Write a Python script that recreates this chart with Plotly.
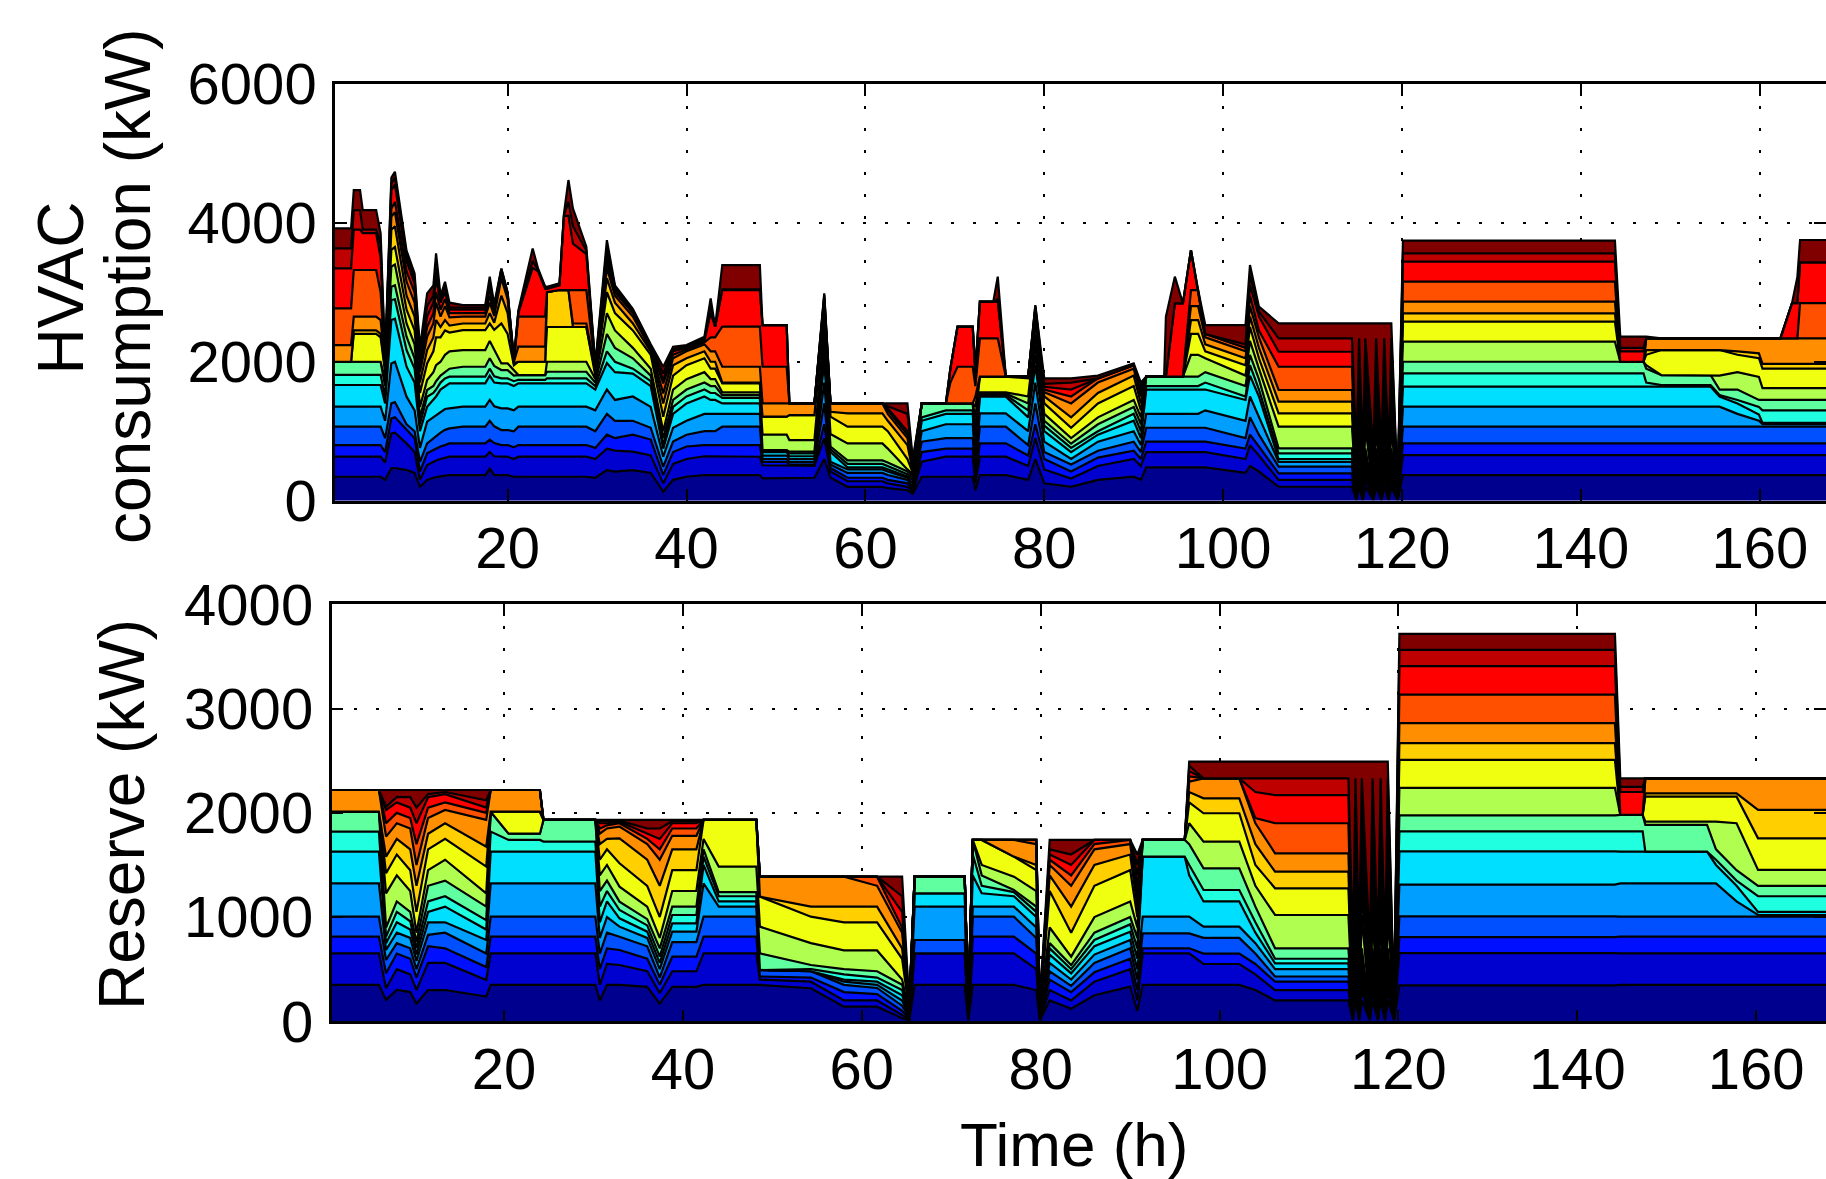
import numpy as np
import plotly.graph_objects as go

# ---------------- data ----------------
layer_colors = [
    "rgb(0,0,143)", "rgb(0,0,207)", "rgb(0,16,255)", "rgb(0,80,255)",
    "rgb(0,159,255)", "rgb(0,223,255)", "rgb(32,255,223)", "rgb(96,255,159)",
    "rgb(176,255,80)", "rgb(240,255,16)", "rgb(255,207,0)", "rgb(255,143,0)",
    "rgb(255,80,0)", "rgb(255,0,0)", "rgb(191,0,0)", "rgb(128,0,0)"]

x_ticks = [20, 40, 60, 80, 100, 120, 140, 160]
cons_ticks = [0, 2000, 4000, 6000]
res_ticks = [0, 1000, 2000, 3000, 4000]

# cumulative top of each of the 16 stacked layers (kW)
C_BIG = [369, 657, 825, 1065, 1353, 1641, 1832, 2000, 2288, 2576, 2696, 2864, 3152, 3440, 3559, 3742]
R_BIG = [345, 655, 808, 1007, 1311, 1630, 1822, 1975, 2240, 2509, 2669, 2860, 3135, 3407, 3564, 3717]
C_LATE = [201, 300, 393, 490, 560, 600, 680, 753, 1065, 1257, 1425, 1593, 1928, 2144, 2336, 2552]
R_LATE = [200, 300, 380, 430, 500, 556, 600, 700, 1020, 1276, 1436, 1612, 1900, 2171, 2331, 2491]
DIP = [10, 20, 30, 40, 50, 60, 70, 80, 90, 100, 110, 120, 130, 140, 150, 160]
C_DIP = [10, 20, 30, 40, 50, 60, 70, 80, 100, 130, 160, 200, 260, 400, 700, 2552]
R_DIP = [10, 20, 30, 40, 50, 60, 70, 80, 100, 130, 160, 200, 260, 400, 700, 2491]

cons_data = [
    (0.5, [345, 633, 801, 1065, 1353, 1665, 1810, 2000, 2000, 2000, 2000, 2240, 2768, 3343, 3631, 3919]),
    (2.5, [345, 633, 801, 1065, 1353, 1665, 1810, 2000, 2000, 2000, 2000, 2240, 2768, 3343, 3631, 3919]),
    (2.8, [345, 633, 801, 1065, 1353, 1665, 1810, 2000, 2000, 2400, 2450, 2650, 3320, 3900, 4180, 4470]),
    (3.5, [345, 633, 801, 1065, 1353, 1665, 1810, 2000, 2000, 2400, 2450, 2650, 3320, 3900, 4180, 4470]),
    (3.8, [345, 633, 801, 1065, 1353, 1665, 1810, 2000, 2000, 2400, 2450, 2650, 3320, 3850, 3900, 4183]),
    (5.3, [345, 633, 801, 1065, 1353, 1665, 1810, 2000, 2000, 2400, 2450, 2650, 3320, 3850, 3900, 4183]),
    (5.8, [345, 633, 801, 1065, 1353, 1665, 1810, 2000, 2000, 2350, 2400, 2600, 3000, 3500, 3700, 3850]),
    (6.3, [300, 550, 700, 900, 1150, 1400, 1500, 1650, 1750, 1850, 1900, 1950, 1980, 2000, 2020, 2050]),
    (7.0, [465, 969, 1185, 1400, 1976, 2600, 2888, 3080, 3370, 3610, 3900, 4090, 4200, 4470, 4560, 4650]),
    (7.4, [470, 980, 1200, 1420, 2000, 2620, 2900, 3100, 3400, 3650, 3950, 4150, 4300, 4550, 4650, 4735]),
    (8.7, [441, 825, 1017, 1100, 1497, 1928, 2168, 2360, 2550, 2750, 2950, 3150, 3300, 3450, 3530, 3600]),
    (9.6, [400, 700, 900, 1000, 1300, 1700, 1900, 2050, 2250, 2450, 2650, 2850, 3000, 3120, 3200, 3270]),
    (10.2, [200, 300, 420, 560, 760, 1000, 1100, 1200, 1350, 1550, 1700, 1850, 1950, 2050, 2120, 2200]),
    (11.0, [297, 513, 681, 825, 1137, 1353, 1497, 1593, 1737, 1976, 2168, 2360, 2500, 2650, 2800, 2984]),
    (11.7, [330, 560, 730, 900, 1200, 1450, 1550, 1650, 1850, 2150, 2350, 2550, 2700, 2850, 2950, 3100]),
    (12.0, [340, 580, 750, 930, 1230, 1500, 1600, 1720, 1950, 2350, 2600, 2850, 3000, 3200, 3350, 3559]),
    (12.5, [350, 600, 780, 980, 1280, 1600, 1700, 1800, 2000, 2350, 2500, 2650, 2750, 2850, 2900, 2950]),
    (13.0, [360, 620, 800, 1020, 1320, 1650, 1760, 1850, 2100, 2450, 2600, 2800, 2900, 3000, 3080, 3150]),
    (13.5, [369, 633, 825, 1041, 1329, 1689, 1785, 1900, 2150, 2420, 2520, 2640, 2700, 2750, 2780, 2850]),
    (15.0, [369, 633, 825, 1065, 1353, 1689, 1785, 1928, 2168, 2456, 2550, 2650, 2700, 2750, 2780, 2816]),
    (17.5, [369, 633, 825, 1065, 1353, 1689, 1785, 1928, 2168, 2456, 2550, 2650, 2700, 2750, 2780, 2816]),
    (18.0, [460, 700, 880, 1150, 1450, 1800, 1900, 2050, 2300, 2550, 2700, 2850, 2950, 3050, 3150, 3224]),
    (18.5, [370, 640, 830, 1070, 1360, 1700, 1790, 1940, 2170, 2460, 2560, 2660, 2710, 2760, 2790, 2830]),
    (19.3, [369, 633, 801, 1017, 1329, 1689, 1760, 1880, 1976, 2552, 2950, 3200, 3290, 3320, 3335, 3343]),
    (20.0, [369, 633, 801, 1017, 1329, 1689, 1760, 1880, 1976, 2400, 2700, 2900, 2950, 2980, 2990, 3000]),
    (20.7, [345, 600, 770, 1000, 1300, 1650, 1720, 1800, 1880, 1950, 1980, 2000, 2010, 2020, 2030, 2040]),
    (21.2, [345, 633, 801, 1065, 1353, 1689, 1740, 1808, 1808, 2000, 2000, 2216, 2650, 2700, 2720, 2740]),
    (22.8, [345, 633, 801, 1065, 1353, 1689, 1740, 1808, 1808, 2000, 2000, 2216, 2650, 3350, 3450, 3631]),
    (23.4, [345, 633, 801, 1065, 1353, 1689, 1740, 1808, 1808, 2000, 2000, 2216, 2650, 3300, 3320, 3343]),
    (24.2, [345, 633, 801, 1065, 1353, 1689, 1740, 1808, 1808, 2000, 2000, 2216, 2650, 3050, 3070, 3080]),
    (24.4, [345, 633, 801, 1065, 1353, 1689, 1760, 1856, 2000, 2500, 3000, 3000, 3000, 3050, 3070, 3080]),
    (25.8, [345, 633, 801, 1065, 1353, 1689, 1760, 1856, 2000, 2500, 3032, 3032, 3032, 3100, 3110, 3130]),
    (26.3, [345, 633, 801, 1065, 1353, 1689, 1760, 1856, 2000, 2500, 3032, 3032, 3032, 4100, 4110, 4130]),
    (26.8, [345, 633, 801, 1065, 1353, 1689, 1760, 1856, 2000, 2500, 3032, 3032, 3032, 4100, 4300, 4615]),
    (27.3, [345, 633, 801, 1065, 1353, 1689, 1760, 1856, 2000, 2500, 2500, 2550, 3032, 3700, 3950, 4207]),
    (28.8, [345, 633, 801, 1065, 1353, 1689, 1760, 1856, 2000, 2500, 2500, 2550, 3032, 3550, 3600, 3655]),
    (29.8, [330, 600, 760, 1000, 1300, 1600, 1650, 1700, 1750, 1800, 1850, 1880, 1900, 1920, 1940, 1960]),
    (31.1, [440, 750, 950, 1250, 1600, 1980, 2150, 2400, 2700, 3000, 3200, 3350, 3450, 3550, 3650, 3751]),
    (32.0, [420, 720, 900, 1150, 1450, 1850, 2000, 2200, 2450, 2700, 2850, 2950, 3000, 3050, 3080, 3100]),
    (34.0, [441, 705, 950, 1150, 1500, 1830, 1900, 2050, 2200, 2450, 2550, 2650, 2700, 2720, 2740, 2760]),
    (36.0, [400, 650, 880, 1050, 1350, 1650, 1720, 1800, 1900, 2100, 2150, 2180, 2200, 2210, 2220, 2250]),
    (37.4, [130, 250, 369, 489, 633, 750, 800, 900, 1000, 1209, 1400, 1545, 1690, 1740, 1830, 1928]),
    (38.5, [300, 530, 700, 850, 1050, 1250, 1350, 1450, 1600, 1800, 1950, 2050, 2100, 2150, 2180, 2216]),
    (40.0, [345, 600, 780, 950, 1150, 1400, 1500, 1600, 1750, 1950, 2050, 2150, 2180, 2200, 2220, 2240]),
    (42.0, [369, 640, 800, 1000, 1250, 1500, 1600, 1700, 1850, 2050, 2150, 2250, 2280, 2300, 2330, 2360]),
    (42.7, [369, 640, 800, 1000, 1250, 1450, 1550, 1650, 1750, 1900, 2000, 2150, 2350, 2700, 2800, 2912]),
    (43.2, [369, 640, 800, 1000, 1250, 1450, 1550, 1650, 1750, 1900, 2000, 2150, 2350, 2504, 2504, 2504]),
    (44.0, [369, 633, 801, 1065, 1250, 1400, 1480, 1520, 1560, 1689, 1700, 1928, 2504, 3032, 3040, 3391]),
    (48.2, [369, 633, 801, 1065, 1250, 1400, 1480, 1520, 1560, 1689, 1700, 1928, 2504, 3032, 3040, 3391]),
    (48.5, [320, 510, 560, 600, 650, 700, 720, 730, 950, 1209, 1209, 1401, 1928, 2528, 2528, 2528]),
    (51.2, [320, 510, 560, 600, 650, 700, 720, 730, 950, 1209, 1209, 1401, 1928, 2528, 2528, 2528]),
    (51.5, [330, 500, 520, 560, 600, 640, 680, 705, 873, 1233, 1233, 1401, 1401, 1401, 1401, 1401]),
    (54.3, [330, 500, 520, 560, 600, 640, 680, 705, 873, 1233, 1233, 1401, 1401, 1401, 1401, 1401]),
    (55.4, [600, 900, 1100, 1400, 1700, 2000, 2200, 2350, 2500, 2700, 2800, 2850, 2900, 2930, 2960, 2984]),
    (56.1, [330, 420, 470, 520, 560, 700, 740, 780, 960, 1209, 1280, 1401, 1401, 1401, 1401, 1401]),
    (58.0, [200, 280, 330, 400, 450, 480, 530, 580, 825, 1065, 1257, 1401, 1401, 1401, 1401, 1401]),
    (61.9, [200, 280, 330, 400, 450, 480, 530, 580, 825, 1065, 1257, 1401, 1401, 1401, 1401, 1401]),
    (62.5, [180, 250, 300, 370, 420, 450, 500, 550, 750, 1000, 1150, 1250, 1300, 1330, 1360, 1401]),
    (64.7, [150, 200, 250, 300, 330, 350, 380, 420, 450, 600, 800, 900, 950, 1000, 1250, 1401]),
    (65.3, [100, 130, 160, 200, 250, 300, 330, 360, 380, 400, 420, 450, 480, 520, 560, 600]),
    (66.3, [345, 560, 700, 850, 1000, 1150, 1200, 1401, 1401, 1401, 1401, 1401, 1401, 1401, 1401, 1401]),
    (69.0, [345, 633, 750, 900, 1100, 1250, 1300, 1401, 1401, 1401, 1401, 1401, 1401, 1401, 1401, 1401]),
    (69.5, [345, 633, 750, 900, 1100, 1250, 1300, 1401, 1401, 1401, 1401, 1401, 1700, 1900, 1900, 1900]),
    (70.3, [345, 633, 750, 900, 1100, 1250, 1300, 1401, 1401, 1401, 1401, 1401, 1928, 2504, 2504, 2504]),
    (72.0, [345, 633, 750, 900, 1100, 1250, 1300, 1401, 1401, 1401, 1401, 1401, 1928, 2504, 2504, 2504]),
    (72.3, [150, 250, 350, 450, 550, 650, 750, 900, 1050, 1200, 1350, 1500, 1650, 1800, 1850, 1900]),
    (72.8, [369, 633, 825, 1065, 1257, 1497, 1520, 1540, 1560, 1785, 1785, 1785, 2336, 2864, 2864, 2864]),
    (74.3, [369, 633, 825, 1065, 1257, 1497, 1520, 1540, 1560, 1785, 1785, 1785, 2336, 2864, 2864, 2864]),
    (74.8, [369, 633, 825, 1065, 1257, 1497, 1520, 1540, 1560, 1785, 1785, 1785, 2336, 2864, 2900, 3224]),
    (75.7, [369, 633, 825, 1065, 1257, 1497, 1520, 1540, 1560, 1785, 1785, 1785, 1785, 1785, 1785, 1785]),
    (78.2, [300, 500, 650, 800, 1000, 1200, 1300, 1400, 1500, 1760, 1785, 1785, 1785, 1785, 1785, 1785]),
    (79.0, [600, 900, 1100, 1400, 1700, 1950, 2100, 2250, 2400, 2550, 2650, 2700, 2750, 2780, 2800, 2816]),
    (80.0, [250, 450, 600, 700, 850, 1000, 1080, 1150, 1250, 1400, 1500, 1560, 1600, 1640, 1680, 1760]),
    (83.0, [200, 320, 420, 520, 600, 700, 760, 820, 900, 1050, 1200, 1400, 1500, 1600, 1700, 1760]),
    (86.0, [300, 500, 620, 720, 850, 950, 1000, 1100, 1200, 1400, 1550, 1700, 1760, 1760, 1760, 1800]),
    (90.0, [345, 600, 720, 850, 1000, 1150, 1250, 1350, 1450, 1650, 1800, 1900, 1950, 1950, 1950, 1976]),
    (90.8, [300, 500, 600, 700, 800, 900, 1000, 1100, 1200, 1300, 1400, 1500, 1550, 1600, 1650, 1700]),
    (91.4, [480, 700, 850, 1050, 1250, 1600, 1650, 1785, 1785, 1785, 1785, 1785, 1785, 1785, 1785, 1785]),
    (93.4, [480, 700, 850, 1050, 1250, 1600, 1650, 1785, 1785, 1785, 1785, 1785, 1785, 1785, 1785, 1785]),
    (93.6, [480, 700, 850, 1050, 1250, 1600, 1650, 1785, 1785, 1785, 1785, 1785, 1785, 1785, 1785, 2648]),
    (94.6, [480, 700, 850, 1050, 1250, 1600, 1650, 1785, 1785, 1785, 1785, 1785, 1785, 2840, 2840, 3224]),
    (95.5, [480, 700, 850, 1050, 1250, 1600, 1650, 1785, 1785, 1785, 1785, 1785, 1785, 2840, 2840, 2840]),
    (96.4, [480, 700, 850, 1050, 1250, 1600, 1650, 1785, 2100, 2400, 2600, 2800, 3032, 3607, 3607, 3607]),
    (97.2, [480, 700, 850, 1050, 1250, 1600, 1650, 1785, 2100, 2400, 2600, 2800, 3032, 3032, 3032, 3032]),
    (98.0, [480, 700, 850, 1050, 1300, 1600, 1700, 1850, 2050, 2150, 2250, 2350, 2400, 2400, 2400, 2528]),
    (102.5, [400, 600, 750, 900, 1150, 1450, 1500, 1650, 1800, 1950, 2050, 2150, 2200, 2200, 2250, 2528]),
    (103.0, [500, 800, 950, 1200, 1500, 1800, 1950, 2100, 2300, 2500, 2650, 2800, 2950, 3100, 3250, 3391]),
    (104.0, [420, 650, 780, 950, 1200, 1500, 1600, 1750, 1900, 2050, 2200, 2350, 2450, 2650, 2720, 2792]),
    (106.2, C_LATE), (114.0, C_LATE),
    (114.4, C_LATE), (114.9, C_DIP), (115.2, C_LATE), (115.6, C_DIP), (115.9, C_LATE),
    (116.8, C_DIP), (117.1, C_LATE), (117.7, C_DIP), (118.0, C_LATE), (118.5, C_DIP),
    (118.8, C_LATE), (119.5, DIP),
    (120.1, C_BIG), (143.8, C_BIG),
    (144.4, [369, 657, 825, 1065, 1353, 1641, 1832, 2000, 2000, 2000, 2000, 2000, 2000, 2150, 2200, 2360]),
    (147.0, [369, 657, 825, 1065, 1353, 1641, 1832, 2000, 2000, 2000, 2000, 2000, 2000, 2150, 2200, 2360]),
    (147.3, [369, 657, 825, 1065, 1353, 1641, 1700, 1900, 1952, 2100, 2168, 2336, 2336, 2336, 2336, 2360]),
    (149.0, [369, 657, 825, 1065, 1353, 1641, 1664, 1808, 1808, 2168, 2168, 2336, 2336, 2336, 2336, 2336]),
    (154.5, [369, 657, 825, 1065, 1353, 1641, 1664, 1808, 1808, 2168, 2168, 2336, 2336, 2336, 2336, 2336]),
    (155.5, [369, 657, 825, 1065, 1353, 1500, 1520, 1600, 1800, 2168, 2168, 2336, 2336, 2336, 2336, 2336]),
    (157.5, [369, 657, 825, 1065, 1250, 1400, 1450, 1600, 1850, 2100, 2150, 2336, 2336, 2336, 2336, 2336]),
    (159.9, [369, 657, 825, 1065, 1150, 1240, 1350, 1450, 1780, 2050, 2120, 2336, 2336, 2336, 2336, 2336]),
    (160.3, [369, 657, 825, 1065, 1100, 1120, 1300, 1450, 1620, 1900, 1970, 2336, 2336, 2336, 2336, 2336]),
    (162.3, [369, 657, 825, 1065, 1100, 1120, 1300, 1450, 1620, 1900, 1970, 2336, 2336, 2336, 2336, 2336]),
    (163.6, [369, 657, 825, 1065, 1100, 1120, 1300, 1450, 1620, 1900, 1970, 2336, 2336, 2843, 2843, 2843]),
    (164.2, [369, 657, 825, 1065, 1100, 1120, 1300, 1450, 1620, 1900, 1970, 2336, 2336, 2843, 2843, 3220]),
    (164.5, [369, 657, 825, 1065, 1100, 1120, 1300, 1450, 1620, 1900, 1970, 2336, 2843, 3430, 3430, 3752]),
    (168.0, [369, 657, 825, 1065, 1100, 1120, 1300, 1450, 1620, 1900, 1970, 2336, 2843, 3430, 3430, 3752]),
]

res_data = [
    (0.5, [349, 652, 812, 1004, 1324, 1628, 1820, 2011, 2011, 2011, 2011, 2219, 2219, 2219, 2219, 2219]),
    (6.0, [349, 652, 812, 1004, 1324, 1628, 1820, 2011, 2011, 2011, 2011, 2219, 2219, 2219, 2219, 2219]),
    (6.8, [205, 317, 461, 588, 684, 750, 812, 900, 1228, 1420, 1580, 1772, 1900, 2028, 2060, 2219]),
    (8.0, [300, 500, 650, 750, 850, 950, 1050, 1150, 1400, 1600, 1750, 1900, 2000, 2100, 2150, 2219]),
    (9.5, [280, 450, 600, 700, 800, 880, 960, 1050, 1250, 1450, 1650, 1850, 1950, 2050, 2150, 2219]),
    (10.2, [170, 300, 420, 500, 580, 640, 700, 760, 850, 1050, 1300, 1500, 1700, 1900, 2050, 2219]),
    (11.5, [300, 560, 720, 830, 950, 1050, 1150, 1300, 1450, 1650, 1800, 1950, 2050, 2150, 2180, 2219]),
    (13.4, [300, 560, 700, 850, 950, 1100, 1200, 1350, 1550, 1750, 1900, 2028, 2100, 2180, 2200, 2219]),
    (18.0, [237, 397, 520, 650, 780, 880, 970, 1100, 1228, 1484, 1676, 1932, 2000, 2050, 2120, 2219]),
    (18.5, [349, 652, 812, 1004, 1324, 1628, 1820, 2011, 2011, 2011, 2011, 2219, 2219, 2219, 2219, 2219]),
    (20.5, [349, 652, 812, 1004, 1324, 1628, 1740, 1800, 1800, 2011, 2011, 2219, 2219, 2219, 2219, 2219]),
    (24.0, [349, 652, 812, 1004, 1324, 1628, 1740, 1800, 1800, 2011, 2011, 2219, 2219, 2219, 2219, 2219]),
    (24.4, [349, 652, 812, 1004, 1324, 1628, 1724, 1932, 1932, 1932, 1932, 1932, 1932, 1932, 1932, 1932]),
    (30.2, [349, 652, 812, 1004, 1324, 1628, 1724, 1932, 1932, 1932, 1932, 1932, 1932, 1932, 1932, 1932]),
    (30.7, [200, 350, 500, 650, 800, 950, 1100, 1250, 1400, 1550, 1700, 1800, 1850, 1900, 1920, 1932]),
    (31.5, [349, 550, 700, 850, 1000, 1150, 1250, 1350, 1500, 1650, 1750, 1850, 1880, 1900, 1920, 1932]),
    (32.9, [349, 540, 684, 812, 908, 988, 1068, 1148, 1292, 1516, 1756, 1868, 1900, 1915, 1925, 1932]),
    (36.0, [330, 480, 600, 720, 800, 860, 920, 980, 1100, 1300, 1550, 1700, 1750, 1800, 1850, 1932]),
    (37.4, [170, 270, 350, 420, 500, 560, 620, 700, 800, 1000, 1300, 1550, 1650, 1750, 1850, 1932]),
    (38.8, [330, 480, 620, 760, 860, 940, 1020, 1100, 1250, 1450, 1650, 1780, 1850, 1900, 1920, 1932]),
    (41.5, [330, 480, 620, 760, 860, 940, 1020, 1100, 1250, 1450, 1650, 1780, 1850, 1900, 1920, 1932]),
    (42.3, [349, 652, 812, 1004, 1324, 1500, 1580, 1650, 1750, 1932, 1932, 1932, 1932, 1932, 1932, 1932]),
    (44.0, [349, 652, 812, 1004, 1100, 1150, 1200, 1240, 1484, 1932, 1932, 1932, 1932, 1932, 1932, 1932]),
    (48.2, [349, 652, 812, 1004, 1100, 1150, 1200, 1240, 1484, 1932, 1932, 1932, 1932, 1932, 1932, 1932]),
    (48.6, [349, 400, 430, 492, 492, 492, 492, 652, 908, 1196, 1196, 1388, 1388, 1388, 1388, 1388]),
    (54.3, [317, 380, 420, 480, 480, 480, 500, 540, 750, 1004, 1100, 1388, 1388, 1388, 1388, 1388]),
    (58.0, [140, 200, 280, 350, 380, 400, 450, 500, 680, 950, 1100, 1388, 1388, 1388, 1388, 1388]),
    (61.7, [140, 200, 260, 320, 350, 380, 420, 480, 680, 950, 1100, 1300, 1388, 1388, 1388, 1388]),
    (64.5, [30, 60, 100, 150, 200, 250, 300, 350, 400, 600, 700, 850, 900, 1050, 1200, 1388]),
    (65.3, DIP),
    (65.9, [349, 652, 652, 780, 1100, 1228, 1228, 1388, 1388, 1388, 1388, 1388, 1388, 1388, 1388, 1388]),
    (71.5, [349, 652, 652, 780, 1100, 1228, 1228, 1388, 1388, 1388, 1388, 1388, 1388, 1388, 1388, 1388]),
    (71.9, DIP),
    (72.4, [349, 652, 812, 1004, 1100, 1400, 1600, 1740, 1740, 1740, 1740, 1740, 1740, 1740, 1740, 1740]),
    (73.4, [349, 652, 812, 1004, 1100, 1228, 1300, 1400, 1500, 1740, 1740, 1740, 1740, 1740, 1740, 1740]),
    (77.0, [349, 652, 812, 1004, 1100, 1200, 1240, 1260, 1388, 1580, 1580, 1740, 1740, 1740, 1740, 1740]),
    (79.5, [300, 500, 650, 800, 900, 1000, 1050, 1100, 1250, 1450, 1500, 1700, 1740, 1740, 1740, 1740]),
    (79.9, DIP),
    (81.0, [200, 300, 400, 480, 560, 640, 700, 750, 900, 1250, 1400, 1500, 1550, 1600, 1650, 1740]),
    (83.4, [120, 200, 280, 340, 400, 460, 500, 540, 620, 850, 1100, 1300, 1400, 1500, 1600, 1740]),
    (86.0, [250, 380, 470, 560, 640, 720, 780, 850, 1000, 1300, 1500, 1650, 1700, 1740, 1740, 1740]),
    (90.0, [333, 500, 600, 700, 780, 860, 930, 1000, 1150, 1450, 1600, 1700, 1740, 1740, 1740, 1740]),
    (90.8, [100, 200, 300, 400, 500, 600, 700, 800, 900, 1000, 1100, 1200, 1300, 1400, 1500, 1600]),
    (91.4, [349, 652, 700, 844, 1004, 1580, 1580, 1740, 1740, 1740, 1740, 1740, 1740, 1740, 1740, 1740]),
    (96.1, [349, 652, 700, 844, 1004, 1580, 1580, 1740, 1740, 1740, 1740, 1740, 1740, 1740, 1740, 1740]),
    (96.6, [349, 652, 700, 844, 1004, 1400, 1500, 1700, 1900, 2100, 2200, 2300, 2350, 2400, 2450, 2491]),
    (98.2, [349, 550, 650, 800, 908, 1150, 1260, 1468, 1724, 1996, 2139, 2331, 2331, 2331, 2331, 2491]),
    (102.2, [349, 550, 650, 800, 908, 1150, 1260, 1468, 1724, 1996, 2139, 2331, 2331, 2331, 2331, 2491]),
    (104.0, [300, 450, 550, 650, 750, 850, 950, 1100, 1300, 1500, 1700, 1900, 1950, 2200, 2331, 2491]),
    (106.2, R_LATE), (114.0, R_LATE),
    (114.4, R_LATE), (114.9, R_DIP), (115.2, R_LATE), (115.6, R_DIP), (115.9, R_LATE),
    (116.8, R_DIP), (117.1, R_LATE), (117.7, R_DIP), (118.0, R_LATE), (118.5, R_DIP),
    (118.8, R_LATE), (119.5, DIP),
    (120.1, R_BIG), (144.2, R_BIG),
    (144.8, [349, 652, 812, 1004, 1324, 1628, 1822, 1980, 1980, 1980, 1980, 1980, 1980, 2200, 2250, 2331]),
    (147.3, [349, 652, 812, 1004, 1324, 1628, 1822, 1980, 1980, 1980, 1980, 1980, 1980, 2200, 2250, 2331]),
    (147.6, [349, 652, 812, 1004, 1324, 1628, 1628, 1884, 1916, 2155, 2187, 2331, 2331, 2331, 2331, 2331]),
    (154.5, [349, 652, 812, 1004, 1324, 1628, 1628, 1884, 1916, 2155, 2187, 2331, 2331, 2331, 2331, 2331]),
    (155.5, [349, 652, 812, 1004, 1324, 1500, 1550, 1650, 1916, 2155, 2187, 2331, 2331, 2331, 2331, 2331]),
    (157.8, [349, 652, 812, 1004, 1150, 1300, 1350, 1450, 1900, 2155, 2187, 2331, 2331, 2331, 2331, 2331]),
    (160.2, [349, 652, 812, 1004, 1020, 1050, 1200, 1300, 1452, 1756, 2028, 2331, 2331, 2331, 2331, 2331]),
    (168.0, [349, 652, 812, 1004, 1020, 1050, 1200, 1300, 1452, 1756, 2028, 2331, 2331, 2331, 2331, 2331]),
]

# ---------------- figure ----------------
W, H = 1826, 1179
FONT = "Liberation Sans, Arial, Helvetica, sans-serif"
fig = go.Figure()


def add_stack(rows, xa, ya):
    hours = [r[0] for r in rows]
    levels = np.maximum.accumulate(np.array([r[1] for r in rows], dtype=float), axis=1)
    for k in range(levels.shape[1]):
        fig.add_trace(go.Scatter(
            x=hours, y=levels[:, k], xaxis=xa, yaxis=ya, mode="lines",
            line=dict(color="black", width=2.2),
            fill="tozeroy" if k == 0 else "tonexty",
            fillcolor=layer_colors[k], showlegend=False, hoverinfo="skip"))


add_stack(cons_data, "x", "y")
add_stack(res_data, "x2", "y2")

axis_common = dict(
    showline=True, linecolor="black", linewidth=2.5, mirror="ticks",
    ticks="inside", ticklen=12, tickwidth=2, tickcolor="black",
    showgrid=True, gridcolor="black", gridwidth=2, griddash="3px,19px",
    zeroline=False, layer="above traces", automargin=False,
    tickfont=dict(family=FONT, size=58, color="black"))

fig.update_layout(
    width=W, height=H, paper_bgcolor="white", plot_bgcolor="white",
    margin=dict(l=0, r=0, t=0, b=0, pad=0), showlegend=False,
    xaxis=dict(domain=[335 / W, 1], range=[0.7, 167.4], tickvals=x_ticks,
               ticklabelstandoff=-5, anchor="y", **axis_common),
    yaxis=dict(domain=[1 - 500.7 / H, 1 - 83.8 / H], range=[0, 6000], tickvals=cons_ticks,
               ticklabelstandoff=4, anchor="x", **axis_common),
    xaxis2=dict(domain=[331.5 / W, 1], range=[0.7, 167.8], tickvals=x_ticks,
                ticklabelstandoff=-5, anchor="y2", **axis_common),
    yaxis2=dict(domain=[1 - 1021.3 / H, 1 - 604.4 / H], range=[0, 4000], tickvals=res_ticks,
                ticklabelstandoff=4, anchor="x2", **axis_common),
)

for text, px, py, ang, fs in [("HVAC", 60.5, 288, -90, 64), ("consumption (kW)", 128, 286, -90, 64),
                              ("Reserve (kW)", 122, 814, -90, 64), ("Time (h)", 1074, 1144, 0, 62)]:
    fig.add_annotation(text=text, x=px / W, y=1 - py / H, xref="paper", yref="paper",
                       showarrow=False, textangle=ang,
                       font=dict(family=FONT, size=fs, color="black"),
                       xanchor="center", yanchor="middle")

fig.write_html("out.html", config={"displayModeBar": False},
               post_script="document.body.style.margin='0px';")
